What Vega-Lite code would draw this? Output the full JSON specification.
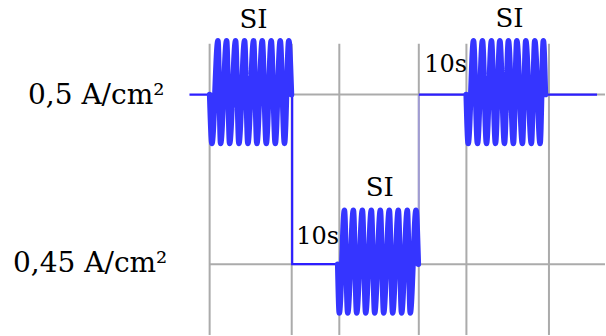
{
  "$schema": "https://vega.github.io/schema/vega-lite/v6.json",
  "width": 606,
  "height": 336,
  "padding": 0,
  "autosize": {"type": "fit", "contains": "padding"},
  "background": "white",
  "config": {"view": {"stroke": null}},
  "datasets": {
    "vgrid": [
      {"t": 0, "y1": 0.515, "y2": 0.4291},
      {"t": 17.5, "y1": 0.515, "y2": 0.4291},
      {"t": 27.65, "y1": 0.515, "y2": 0.4291},
      {"t": 44.6, "y1": 0.515, "y2": 0.4291},
      {"t": 54.75, "y1": 0.515, "y2": 0.4291},
      {"t": 72.35, "y1": 0.515, "y2": 0.4291}
    ],
    "hgrid": [
      {"t1": 0, "t2": 84.3, "v": 0.5},
      {"t1": 0, "t2": 84.3, "v": 0.45}
    ],
    "path": [
      {"seg": "a", "i": 1, "t": -4.3, "v": 0.5},
      {"seg": "a", "i": 2, "t": 17.6, "v": 0.5},
      {"seg": "a", "i": 3, "t": 17.6, "v": 0.45},
      {"seg": "a", "i": 4, "t": 44.6, "v": 0.45},
      {"seg": "b", "i": 5, "t": 44.6, "v": 0.5},
      {"seg": "b", "i": 6, "t": 54.7, "v": 0.5},
      {"seg": "c", "i": 7, "t": 71.95, "v": 0.5},
      {"seg": "c", "i": 8, "t": 82.6, "v": 0.5}
    ],
    "rise": [
      {"t": 44.6, "v1": 0.45, "v2": 0.5}
    ],
    "osc": [
      {"block": 1, "t": 0, "v": 0.5},
      {"block": 1, "t": 0.49, "v": 0.4856},
      {"block": 1, "t": 1.77, "v": 0.5159},
      {"block": 1, "t": 2.34, "v": 0.4856},
      {"block": 1, "t": 3.62, "v": 0.5159},
      {"block": 1, "t": 4.26, "v": 0.4856},
      {"block": 1, "t": 5.53, "v": 0.5159},
      {"block": 1, "t": 6.24, "v": 0.4856},
      {"block": 1, "t": 7.45, "v": 0.5159},
      {"block": 1, "t": 8.15, "v": 0.4856},
      {"block": 1, "t": 9.37, "v": 0.5159},
      {"block": 1, "t": 10.07, "v": 0.4856},
      {"block": 1, "t": 11.22, "v": 0.5159},
      {"block": 1, "t": 12.07, "v": 0.4856},
      {"block": 1, "t": 13.13, "v": 0.5159},
      {"block": 1, "t": 13.99, "v": 0.4856},
      {"block": 1, "t": 15.05, "v": 0.5159},
      {"block": 1, "t": 15.96, "v": 0.4856},
      {"block": 1, "t": 16.88, "v": 0.5159},
      {"block": 1, "t": 17.45, "v": 0.5},
      {"block": 2, "t": 27.3, "v": 0.45},
      {"block": 2, "t": 27.65, "v": 0.4356},
      {"block": 2, "t": 28.74, "v": 0.4659},
      {"block": 2, "t": 29.44, "v": 0.4356},
      {"block": 2, "t": 30.65, "v": 0.4659},
      {"block": 2, "t": 31.35, "v": 0.4356},
      {"block": 2, "t": 32.57, "v": 0.4659},
      {"block": 2, "t": 33.27, "v": 0.4356},
      {"block": 2, "t": 34.48, "v": 0.4659},
      {"block": 2, "t": 35.19, "v": 0.4356},
      {"block": 2, "t": 36.4, "v": 0.4659},
      {"block": 2, "t": 37.1, "v": 0.4356},
      {"block": 2, "t": 38.31, "v": 0.4659},
      {"block": 2, "t": 39.02, "v": 0.4356},
      {"block": 2, "t": 40.23, "v": 0.4659},
      {"block": 2, "t": 40.93, "v": 0.4356},
      {"block": 2, "t": 42.15, "v": 0.4659},
      {"block": 2, "t": 42.78, "v": 0.4356},
      {"block": 2, "t": 44.0, "v": 0.4659},
      {"block": 2, "t": 44.5, "v": 0.45},
      {"block": 3, "t": 54.7, "v": 0.5},
      {"block": 3, "t": 55.13, "v": 0.4856},
      {"block": 3, "t": 56.26, "v": 0.5159},
      {"block": 3, "t": 57.11, "v": 0.4856},
      {"block": 3, "t": 58.17, "v": 0.5159},
      {"block": 3, "t": 59.03, "v": 0.4856},
      {"block": 3, "t": 60.09, "v": 0.5159},
      {"block": 3, "t": 60.94, "v": 0.4856},
      {"block": 3, "t": 61.88, "v": 0.5159},
      {"block": 3, "t": 62.86, "v": 0.4856},
      {"block": 3, "t": 63.71, "v": 0.5159},
      {"block": 3, "t": 64.77, "v": 0.4856},
      {"block": 3, "t": 65.5, "v": 0.5159},
      {"block": 3, "t": 66.69, "v": 0.4856},
      {"block": 3, "t": 67.41, "v": 0.5159},
      {"block": 3, "t": 68.6, "v": 0.4856},
      {"block": 3, "t": 69.33, "v": 0.5159},
      {"block": 3, "t": 70.46, "v": 0.4856},
      {"block": 3, "t": 71.16, "v": 0.5159},
      {"block": 3, "t": 71.6, "v": 0.5}
    ],
    "labels": [
      {"t": -38.74, "v": 0.4973, "text": "0,5 A/cm²"},
      {"t": -41.93, "v": 0.4478, "text": "0,45 A/cm²"}
    ],
    "tens": [
      {"t": 18.45, "v": 0.4558, "text": "10s"},
      {"t": 45.76, "v": 0.5068, "text": "10s"}
    ],
    "si": [
      {"t": 9.37, "v": 0.5196, "text": "SI"},
      {"t": 36.29, "v": 0.47, "text": "SI"},
      {"t": 63.96, "v": 0.5199, "text": "SI"}
    ]
  },
  "layer": [
    {
      "data": {"name": "vgrid"},
      "mark": {"type": "rule", "color": "#ababab", "strokeWidth": 2},
      "encoding": {
        "x": {"field": "t", "type": "quantitative", "scale": {"domain": [-44.7, 84.3], "nice": false, "zero": false}, "axis": null},
        "y": {"field": "y1", "type": "quantitative", "scale": {"domain": [0.4291, 0.5279], "nice": false, "zero": false}, "axis": null},
        "y2": {"field": "y2"}
      }
    },
    {
      "data": {"name": "hgrid"},
      "mark": {"type": "rule", "color": "#ababab", "strokeWidth": 2},
      "encoding": {
        "x": {"field": "t1", "type": "quantitative"},
        "x2": {"field": "t2"},
        "y": {"field": "v", "type": "quantitative"}
      }
    },
    {
      "data": {"name": "rise"},
      "mark": {"type": "rule", "color": "#a09cd4", "strokeWidth": 2},
      "encoding": {
        "x": {"field": "t", "type": "quantitative"},
        "y": {"field": "v1", "type": "quantitative"},
        "y2": {"field": "v2"}
      }
    },
    {
      "data": {"name": "path"},
      "mark": {"type": "line", "color": "#2d1eff", "strokeWidth": 2.2, "strokeJoin": "miter"},
      "encoding": {
        "x": {"field": "t", "type": "quantitative"},
        "y": {"field": "v", "type": "quantitative"},
        "detail": {"field": "seg"},
        "order": {"field": "i"}
      }
    },
    {
      "data": {"name": "osc"},
      "mark": {"type": "line", "color": "#3535ff", "strokeWidth": 5.5, "strokeJoin": "round", "strokeCap": "round", "interpolate": "monotone"},
      "encoding": {
        "x": {"field": "t", "type": "quantitative"},
        "y": {"field": "v", "type": "quantitative"},
        "detail": {"field": "block"}
      }
    },
    {
      "data": {"name": "labels"},
      "mark": {"type": "text", "font": "DejaVu Serif", "fontSize": 28, "color": "black", "align": "left", "baseline": "alphabetic"},
      "encoding": {
        "x": {"field": "t", "type": "quantitative"},
        "y": {"field": "v", "type": "quantitative"},
        "text": {"field": "text"}
      }
    },
    {
      "data": {"name": "tens"},
      "mark": {"type": "text", "font": "DejaVu Serif", "fontSize": 24, "color": "black", "align": "left", "baseline": "alphabetic"},
      "encoding": {
        "x": {"field": "t", "type": "quantitative"},
        "y": {"field": "v", "type": "quantitative"},
        "text": {"field": "text"}
      }
    },
    {
      "data": {"name": "si"},
      "mark": {"type": "text", "font": "DejaVu Serif", "fontSize": 26, "color": "black", "align": "center", "baseline": "alphabetic"},
      "encoding": {
        "x": {"field": "t", "type": "quantitative"},
        "y": {"field": "v", "type": "quantitative"},
        "text": {"field": "text"}
      }
    }
  ]
}
